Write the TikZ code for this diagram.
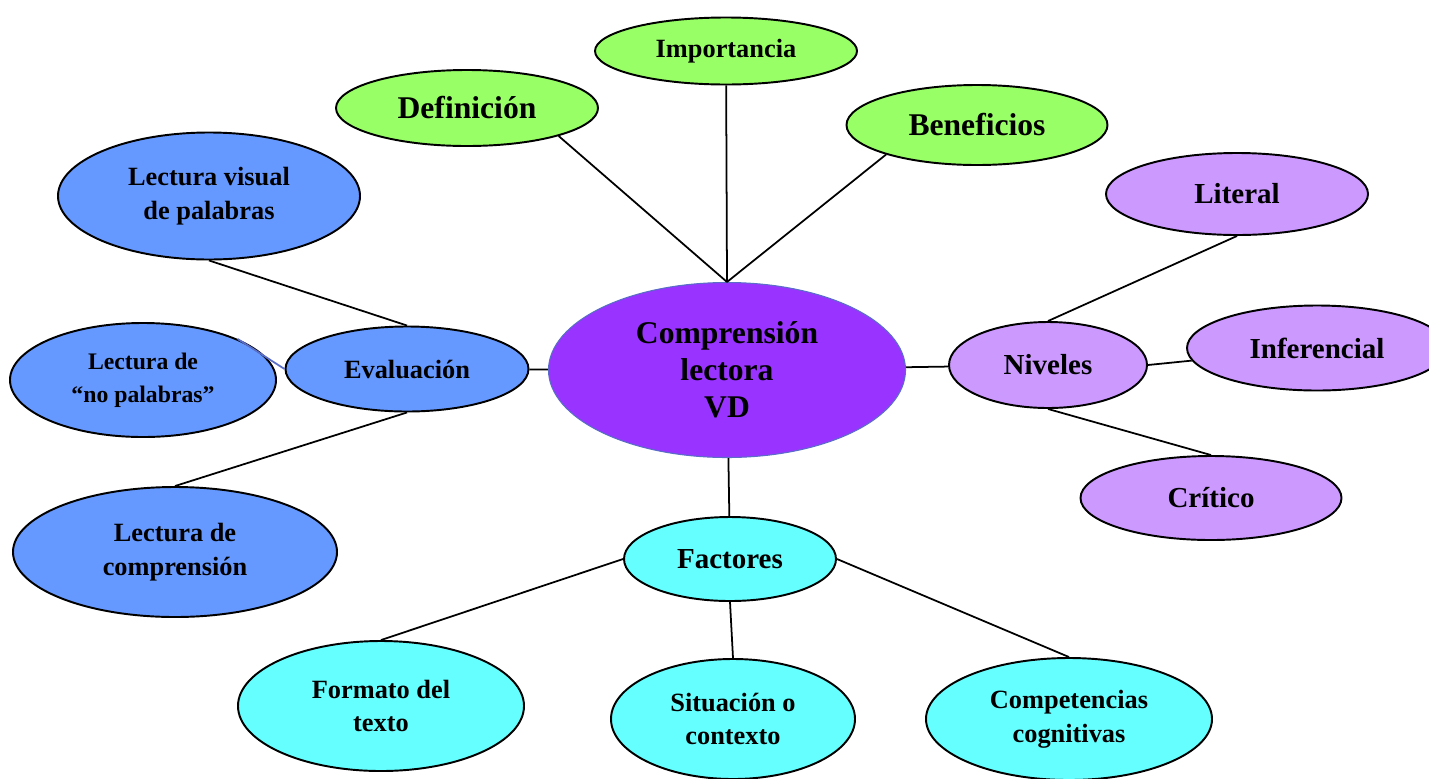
\documentclass[tikz,border=0pt]{standalone}
\usepackage{fontspec}
\setmainfont{Liberation Serif}
\usetikzlibrary{shapes.geometric}
\definecolor{verde}{RGB}{153,255,102}
\definecolor{azul}{RGB}{102,153,255}
\definecolor{morado}{RGB}{153,51,255}
\definecolor{lila}{RGB}{204,153,255}
\definecolor{celeste}{RGB}{102,255,255}
\definecolor{borde}{RGB}{90,110,200}
\def\px{0.02cm}
\def\big{\bfseries\fontsize{18}{21}\selectfont}
\def\mid{\bfseries\fontsize{16.5}{20}\selectfont}
\def\small{\bfseries\fontsize{15}{19.3}\selectfont}
\def\tiny{\bfseries\fontsize{13.5}{19}\selectfont}

\begin{document}
\begin{tikzpicture}[x=\px,y=-\px,line width=1pt,
    oval/.style 2 args={minimum width=#1*\px,minimum height=#2*\px}]
    \tikzstyle{bubble}=[ellipse,draw=black,line width=1.1pt,inner sep=0pt,align=center]
    \tikzstyle{green bubble}=[bubble,fill=verde]
    \tikzstyle{blue bubble}=[bubble,fill=azul]
    \tikzstyle{lilac bubble}=[bubble,fill=lila]
    \tikzstyle{cyan bubble}=[bubble,fill=celeste]
    \useasboundingbox (0,0) rectangle (1429,778);

    % Central node
    \node[bubble,fill=morado,draw=borde,line width=0.6pt,oval={357}{175},font=\big] (C) at (727,370) {Comprensión\\lectora\\VD};

    % Top branches
    \node[green bubble,oval={262}{67},font=\small] (imp) at (726,51) {Importancia};
    \node[green bubble,oval={262}{76},font=\big] (def) at (467,108) {Definición};
    \node[green bubble,oval={261}{80},font=\big] (ben) at (977,125) {Beneficios};

    % Left branch
    \node[blue bubble,oval={243}{85},font=\small] (eva) at (407,369) {Evaluación};
    \node[blue bubble,oval={302}{127},font=\small] (lv) at (209,196) {Lectura visual\\de palabras};
    \node[blue bubble,oval={266}{114},font=\tiny] (np) at (143,380) {Lectura de\\“no palabras”};
    \node[blue bubble,oval={324}{130},font=\small] (lc) at (175,552) {Lectura de\\comprensión};

    % Right branch
    \node[lilac bubble,oval={198}{86},font=\mid] (niv) at (1048,365) {Niveles};
    \node[lilac bubble,oval={262}{82},font=\mid] (lit) at (1237,194) {Literal};
    \node[lilac bubble,oval={260}{85},font=\mid] (inf) at (1317,348) {Inferencial};
    \node[lilac bubble,oval={261}{84},font=\mid] (cri) at (1211,498) {Crítico};

    % Bottom branch
    \node[cyan bubble,oval={212}{84},font=\mid] (fac) at (730,559) {Factores};
    \node[cyan bubble,oval={286}{130},font=\small] (fmt) at (381,706) {Formato del\\texto};
    \node[cyan bubble,oval={244}{120},font=\small] (sit) at (733,719) {Situación o\\contexto};
    \node[cyan bubble,oval={286}{122},font=\small] (comp) at (1069,719) {Competencias\\cognitivas};

    % Connect the branches
    \draw (imp) -- (C.north);
    \draw (def.-17) -- (C.north);
    \draw (ben.-162) -- (C.north);
    \draw (eva) -- (C);
    \draw (lv.south) -- (eva.north);
    \draw[borde] (np.north east) -- (eva.west);
    \draw (eva.south) -- (lc.north);
    \draw (C) -- (niv);
    \draw (niv.north) -- (lit.south);
    \draw (niv.east) -- (inf);
    \draw (niv.south) -- (cri.north);
    \draw (C) -- (fac);
    \draw (fac.west) -- (fmt.north);
    \draw (fac.south) -- (sit.north);
    \draw (fac.east) -- (comp.north);
\end{tikzpicture}
\end{document}
